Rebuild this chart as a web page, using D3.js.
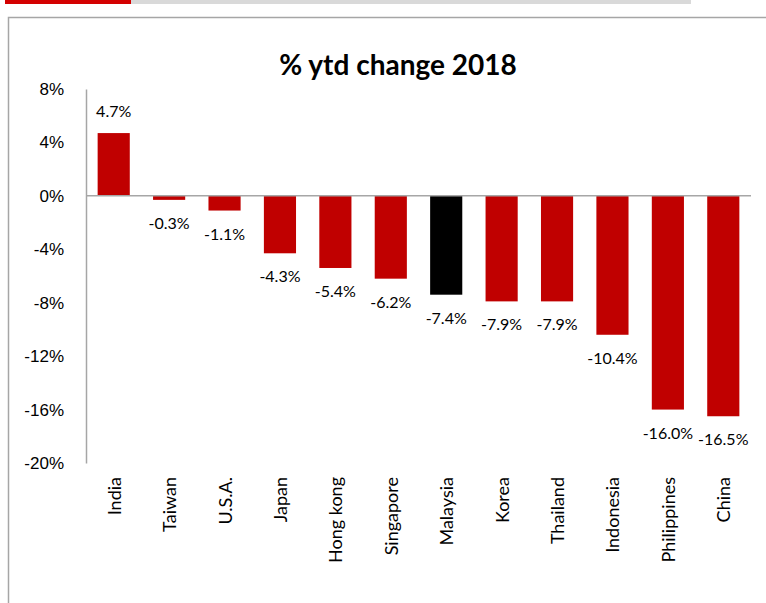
<!DOCTYPE html>
<html>
<head>
<meta charset="utf-8">
<script src="https://cdn.jsdelivr.net/npm/d3@7"></script>
<style>
  body { margin: 0; background: #fff; }
  svg { font-family: Lato, "Open Sans", sans-serif; }
</style>
</head>
<body>
<svg id="chart" width="766" height="603"></svg>
<script>
const categories = ['India', 'Taiwan', 'U.S.A.', 'Japan', 'Hong kong', 'Singapore', 'Malaysia', 'Korea', 'Thailand', 'Indonesia', 'Philippines', 'China'];
const values = [4.7, -0.3, -1.1, -4.3, -5.4, -6.2, -7.4, -7.9, -7.9, -10.4, -16.0, -16.5];
const yTicks = [8, 4, 0, -4, -8, -12, -16, -20];
const highlight = 'Malaysia';

const svg = d3.select('#chart');
const width = 766;
const height = 603;
const margin = { top: 89, bottom: 140, right: 15, left: 86 };
const innerWidth = width - margin.left - margin.right;
const innerHeight = height - margin.top - margin.bottom;

const data = categories.map((c, i) => ({ name: c, value: values[i] }));

// header strip + frame
svg.append('rect').attr('x', 5).attr('y', 0).attr('width', 686).attr('height', 4).attr('fill', '#d9d9d9');
svg.append('rect').attr('x', 5).attr('y', 0).attr('width', 126).attr('height', 4).attr('fill', '#d40000');
svg.append('path')
    .attr('d', 'M8.5,603 V17.5 H766')
    .attr('fill', 'none').attr('stroke', '#a6a6a6').attr('stroke-width', 1.5);

const xScale = d3.scaleBand()
    .domain(categories)
    .range([0, innerWidth])
    .paddingInner(0.42)
    .paddingOuter(0.21);
const yScale = d3.scaleLinear()
    .domain([-20, 8])
    .range([innerHeight, 0]);

const g = svg.append('g')
    .attr('transform', 'translate(' + margin.left + ', ' + margin.top + ')');

g.selectAll('rect')
    .data(data)
    .enter()
    .append('rect')
    .attr('x', d => xScale(d.name))
    .attr('width', xScale.bandwidth())
    .attr('y', d => yScale(Math.max(0, d.value)))
    .attr('height', d => Math.abs(yScale(d.value) - yScale(0)))
    .style('fill', d => d.name === highlight ? '#000000' : '#c00000');

// y axis
const yAxis = d3.axisLeft(yScale)
    .tickValues(yTicks)
    .tickSize(0)
    .tickPadding(22)
    .tickFormat(d => d + '%');
const gY = g.append('g').call(yAxis);
gY.select('.domain').attr('stroke', '#a6a6a6').attr('stroke-width', 1.5);
gY.selectAll('text').style('font-size', '17px').attr('fill', '#000');

// zero line
g.append('line')
    .attr('x1', 0).attr('x2', innerWidth)
    .attr('y1', yScale(0)).attr('y2', yScale(0))
    .attr('stroke', '#a6a6a6').attr('stroke-width', 1.5);

// value labels
g.selectAll('.val')
    .data(data)
    .enter()
    .append('text')
    .attr('class', 'val')
    .attr('x', d => xScale(d.name) + xScale.bandwidth() / 2)
    .attr('y', d => d.value >= 0 ? yScale(d.value) - 16 : yScale(d.value) + 29)
    .attr('text-anchor', 'middle')
    .style('font-size', '16px')
    .text(d => d.value.toFixed(1) + '%');

// category labels
g.selectAll('.cat')
    .data(data)
    .enter()
    .append('text')
    .attr('class', 'cat')
    .attr('transform', d => 'translate(' + (xScale(d.name) + xScale.bandwidth() / 2 + 7) + ',' + (innerHeight + 14) + ') rotate(-90)')
    .attr('text-anchor', 'end')
    .style('font-size', '18px')
    .text(d => d.name);

svg.append('text')
    .attr('x', 398)
    .attr('y', 75)
    .attr('text-anchor', 'middle')
    .style('font-size', '28px')
    .style('font-weight', 'bold')
    .text('% ytd change 2018');
</script>
</body>
</html>
